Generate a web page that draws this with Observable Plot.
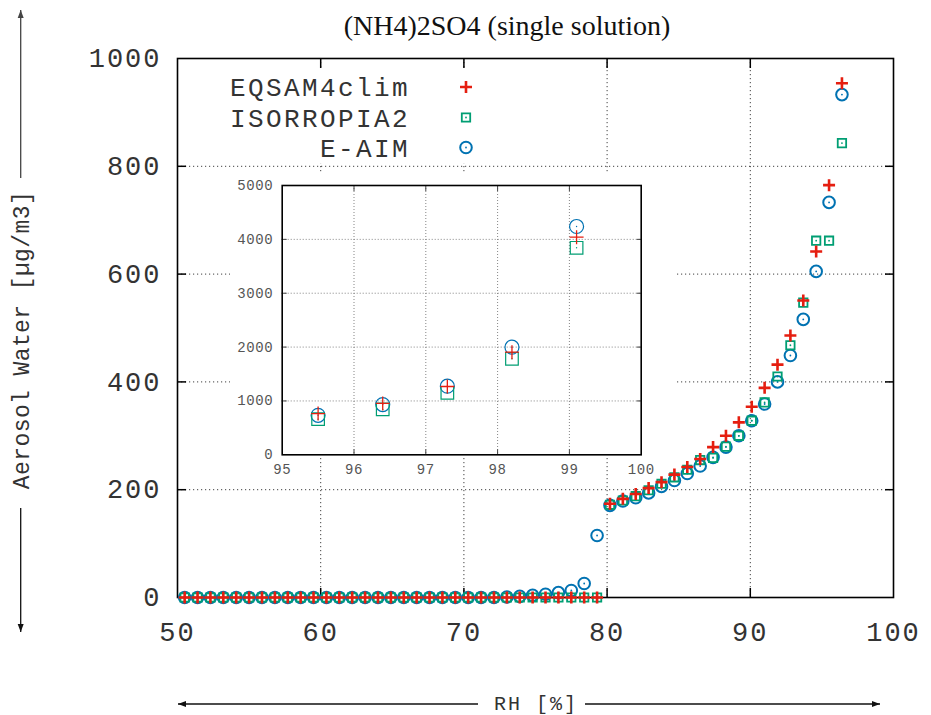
<!DOCTYPE html>
<html>
<head>
<meta charset="utf-8">
<script src="https://cdn.jsdelivr.net/npm/d3@7"></script>
<script src="https://cdn.jsdelivr.net/npm/@observablehq/plot@0.6"></script>
<style>
  body { margin: 0; background: white; }
  #wrap { position: relative; width: 931px; height: 715px; overflow: hidden; }
  #wrap svg { position: absolute; }
</style>
</head>
<body>
<div id="wrap"></div>
<script>
// ---------- data ----------
const RH = [50.5, 51.4, 52.3, 53.2, 54.1, 55.0, 55.9, 56.8, 57.7, 58.6, 59.5, 60.4, 61.3, 62.2, 63.1,
  64.0, 64.9, 65.8, 66.7, 67.6, 68.5, 69.4, 70.3, 71.2, 72.1, 73.0, 73.9, 74.8, 75.7, 76.6, 77.5,
  78.4, 79.3, 80.2, 81.1, 82.0, 82.9, 83.8, 84.7, 85.6, 86.5, 87.4, 88.3, 89.2, 90.1, 91.0, 91.9,
  92.8, 93.7, 94.6, 95.5, 96.4, 97.3, 98.2, 99.1];
const EQSAM4clim = [0, 0, 0, 0, 0, 0, 0, 0, 0, 0, 0, 0, 0, 0, 0,
  0, 0, 0, 0, 0, 0, 0, 0, 0, 0, 0, 0, 0, 0, 0, 0,
  0, 0, 174, 183, 192, 203, 214, 228, 242, 257, 279, 300, 325, 354, 389, 432,
  486, 551, 642, 765, 954, 1268, 1905, 4040];
const ISORROPIA2 = [0, 0, 0, 0, 0, 0, 0, 0, 0, 0, 0, 0, 0, 0, 0,
  0, 0, 0, 0, 0, 0, 0, 0, 0, 0, 0, 0, 0, 0, 0, 0,
  0, 0, 172, 180, 188, 199, 211, 223, 237, 255, 259, 280, 300, 328, 362, 410,
  468, 547, 662, 662, 843, 1151, 1782, 3843];
const EAIM = [0, 0, 0, 0, 0, 0, 0, 0, 0, 0, 0, 0, 0, 0, 0,
  0, 0, 0, 0, 0, 0, 0, 0, 0, 0, 1, 2, 4, 6, 9, 13,
  26, 115, 171, 179, 185, 194, 206, 217, 230, 244, 260, 279, 300, 328, 359, 400,
  449, 516, 605, 733, 933, 1274, 1998, 4239];

const seriesNames = ["EQSAM4clim", "ISORROPIA2", "E-AIM"];
const xTicks = [50, 60, 70, 80, 90, 100];
const yTicks = [0, 200, 400, 600, 800, 1000];
const insetXTicks = [95, 96, 97, 98, 99, 100];
const insetYTicks = [0, 1000, 2000, 3000, 4000, 5000];

const title = "(NH4)2SO4 (single solution)";
const xLabel = "RH [%]";
const yLabel = "Aerosol Water [µg/m3]";

const RED = "#e51e10", GREEN = "#009e73", BLUE = "#0072b2";
const fmt = d => String(d);

// ---------- symbols ----------
const symPlus = {draw(c, s) { const r = Math.sqrt(s / Math.PI); c.moveTo(-r, 0); c.lineTo(r, 0); c.moveTo(0, -r); c.lineTo(0, r); }};
const symSquare = {draw(c, s) { const r = Math.sqrt(s / Math.PI); c.rect(-r, -r, 2 * r, 2 * r); }};
const symCircle = {draw(c, s) { const r = Math.sqrt(s / Math.PI); c.moveTo(r, 0); c.arc(0, 0, r, 0, 2 * Math.PI); }};

const rows = RH.map((x, i) => ({x, eq: EQSAM4clim[i], iso: ISORROPIA2[i], eaim: EAIM[i]}));

function seriesMarks(data, yMax, sz) {
  const keep = k => d => d[k] <= yMax;
  return [
    Plot.dot(data, {x: "x", y: "eaim", filter: keep("eaim"), symbol: symCircle, r: sz.c, fill: "none", stroke: BLUE, strokeWidth: sz.cw}),
    Plot.dot(data, {x: "x", y: "eaim", filter: keep("eaim"), r: sz.d, fill: BLUE, stroke: "none"}),
    Plot.dot(data, {x: "x", y: "iso", filter: keep("iso"), symbol: symSquare, r: sz.s, fill: "none", stroke: GREEN, strokeWidth: sz.sw}),
    Plot.dot(data, {x: "x", y: "iso", filter: keep("iso"), r: sz.d, fill: GREEN, stroke: "none"}),
    Plot.dot(data, {x: "x", y: "eq", filter: keep("eq"), symbol: symPlus, r: sz.p, fill: "none", stroke: RED, strokeWidth: sz.pw})
  ];
}

// ---------- main chart ----------
const mainSvg = Plot.plot({
  width: 931, height: 715,
  marginLeft: 177, marginRight: 38, marginTop: 58, marginBottom: 118,
  x: {domain: [50, 100]},
  y: {domain: [0, 1000]},
  style: {fontFamily: "Liberation Mono, monospace", fontSize: "27px", letterSpacing: "2px", background: "white", overflow: "visible", color: "#000"},
  marks: [
    Plot.gridX(xTicks.slice(1, -1), {stroke: "#000", strokeOpacity: 0.75, strokeDasharray: "1.2,2.8"}),
    Plot.gridY(yTicks.slice(1, -1), {stroke: "#000", strokeOpacity: 0.75, strokeDasharray: "1.2,2.8"}),
    Plot.axisX({anchor: "bottom", ticks: xTicks, tickFormat: fmt, tickSize: 0, tickPadding: 24, label: null, fill: "#333"}),
    Plot.axisY({anchor: "left", ticks: yTicks, tickFormat: fmt, tickSize: 0, tickPadding: 16, label: null, fill: "#333"}),
    Plot.axisX({anchor: "bottom", ticks: xTicks.slice(1, -1), tickSize: 9, dy: -9, fill: "none", label: null, strokeWidth: 1.5}),
    Plot.axisX({anchor: "top", ticks: xTicks.slice(1, -1), tickSize: 9, dy: 9, fill: "none", label: null, strokeWidth: 1.5}),
    Plot.axisY({anchor: "left", ticks: yTicks.slice(1, -1), tickSize: 9, dx: 9, fill: "none", label: null, strokeWidth: 1.5}),
    Plot.axisY({anchor: "right", ticks: yTicks.slice(1, -1), tickSize: 9, dx: -9, fill: "none", label: null, strokeWidth: 1.5}),
    Plot.frame({stroke: "#000", strokeWidth: 1.6}),
    ...seriesMarks(rows.filter(d => d.x <= 100), 1000, {c: 5.8, cw: 2, s: 4.2, sw: 1.8, p: 6, pw: 2.6, d: 0.9})
  ]
});
document.getElementById("wrap").appendChild(mainSvg);
mainSvg.style.left = "0px"; mainSvg.style.top = "0px";

const svg = d3.select(mainSvg);

// title
svg.append("text").attr("x", 507).attr("y", 35).attr("text-anchor", "middle")
  .style("font-family", "Liberation Serif, serif").style("font-size", "28px").style("letter-spacing", "0px")
  .attr("fill", "#111").text(title);

// white clear areas (legend, inset)
svg.append("rect").attr("x", 179).attr("y", 70).attr("width", 306).attr("height", 93).attr("fill", "white");
svg.append("rect").attr("x", 230).attr("y", 174).attr("width", 446).attr("height", 284).attr("fill", "white");

// legend
const legendRows = [
  {name: seriesNames[0], y: 87, sym: symPlus, r: 6, color: RED, sw: 2.6, dot: false},
  {name: seriesNames[1], y: 117.5, sym: symSquare, r: 4.2, color: GREEN, sw: 1.8, dot: true},
  {name: seriesNames[2], y: 147.5, sym: symCircle, r: 5.8, color: BLUE, sw: 2, dot: true}
];
for (const L of legendRows) {
  svg.append("text").attr("x", 410).attr("y", L.y).attr("dy", "0.35em").attr("text-anchor", "end")
    .style("font-size", "26px").style("letter-spacing", "2.4px").attr("fill", "#333").text(L.name);
  svg.append("path").attr("transform", `translate(466,${L.y})`)
    .attr("d", d3.symbol(L.sym, L.r * L.r * Math.PI)())
    .attr("fill", "none").attr("stroke", L.color).attr("stroke-width", L.sw);
  if (L.dot) svg.append("circle").attr("cx", 466).attr("cy", L.y).attr("r", 0.9).attr("fill", L.color);
}

// axis labels with arrows
function arrow(x1, y1, x2, y2, color) {
  svg.append("line").attr("x1", x1).attr("y1", y1).attr("x2", x2).attr("y2", y2)
    .attr("stroke", color).attr("stroke-width", 1.3);
  const a = Math.atan2(y2 - y1, x2 - x1), L = 8, W = 3;
  const p = [[x2, y2],
    [x2 - L * Math.cos(a) + W * Math.sin(a), y2 - L * Math.sin(a) - W * Math.cos(a)],
    [x2 - L * Math.cos(a) - W * Math.sin(a), y2 - L * Math.sin(a) + W * Math.cos(a)]];
  svg.append("path").attr("d", "M" + p.join("L") + "Z").attr("fill", color);
}
svg.append("text").attr("transform", "translate(21,340) rotate(-90)").attr("text-anchor", "middle").attr("dy", "0.35em")
  .style("font-size", "23px").style("letter-spacing", "0.4px").attr("fill", "#333").text(yLabel);
arrow(20.7, 178, 20.7, 10, "#444");
arrow(20.7, 508, 20.7, 632, "#111");

svg.append("text").attr("x", 536).attr("y", 703).attr("dy", "0.35em").attr("text-anchor", "middle")
  .style("font-size", "20px").style("letter-spacing", "2px").attr("fill", "#333").text(xLabel);
arrow(478, 704, 178, 704, "#111");
arrow(585, 704, 880, 704, "#111");

// ---------- inset chart ----------
const insetSvg = Plot.plot({
  width: 446, height: 306,
  marginLeft: 51.7, marginRight: 35.3, marginTop: 11, marginBottom: 25.7,
  x: {domain: [95, 100]},
  y: {domain: [0, 5000]},
  style: {fontFamily: "Liberation Mono, monospace", fontSize: "14px", letterSpacing: "0.6px", background: "transparent", overflow: "visible"},
  marks: [
    Plot.gridX(insetXTicks.slice(1, -1), {stroke: "#666", strokeOpacity: 0.8, strokeDasharray: "1,2"}),
    Plot.gridY(insetYTicks.slice(1, -1), {stroke: "#666", strokeOpacity: 0.8, strokeDasharray: "1,2"}),
    Plot.axisX({anchor: "bottom", ticks: insetXTicks, tickFormat: fmt, tickSize: 0, tickPadding: 9, label: null, fill: "#555"}),
    Plot.axisY({anchor: "left", ticks: insetYTicks, tickFormat: fmt, tickSize: 0, tickPadding: 9, label: null, fill: "#555"}),
    Plot.axisX({anchor: "bottom", ticks: insetXTicks.slice(1, -1), tickSize: 5, dy: -5, fill: "none", label: null, stroke: "#444"}),
    Plot.axisX({anchor: "top", ticks: insetXTicks.slice(1, -1), tickSize: 5, dy: 5, fill: "none", label: null, stroke: "#444"}),
    Plot.axisY({anchor: "left", ticks: insetYTicks.slice(1, -1), tickSize: 5, dx: 5, fill: "none", label: null, stroke: "#444"}),
    Plot.axisY({anchor: "right", ticks: insetYTicks.slice(1, -1), tickSize: 5, dx: -5, fill: "none", label: null, stroke: "#444"}),
    Plot.frame({stroke: "#000", strokeWidth: 1.6}),
    ...seriesMarks(rows.filter(d => d.x >= 95 && d.x <= 100), 5000, {c: 7, cw: 1.2, s: 6.3, sw: 1.2, p: 7, pw: 1.3, d: 0.7})
  ]
});
document.getElementById("wrap").appendChild(insetSvg);
insetSvg.style.left = "230px"; insetSvg.style.top = "174px";
</script>
</body>
</html>
